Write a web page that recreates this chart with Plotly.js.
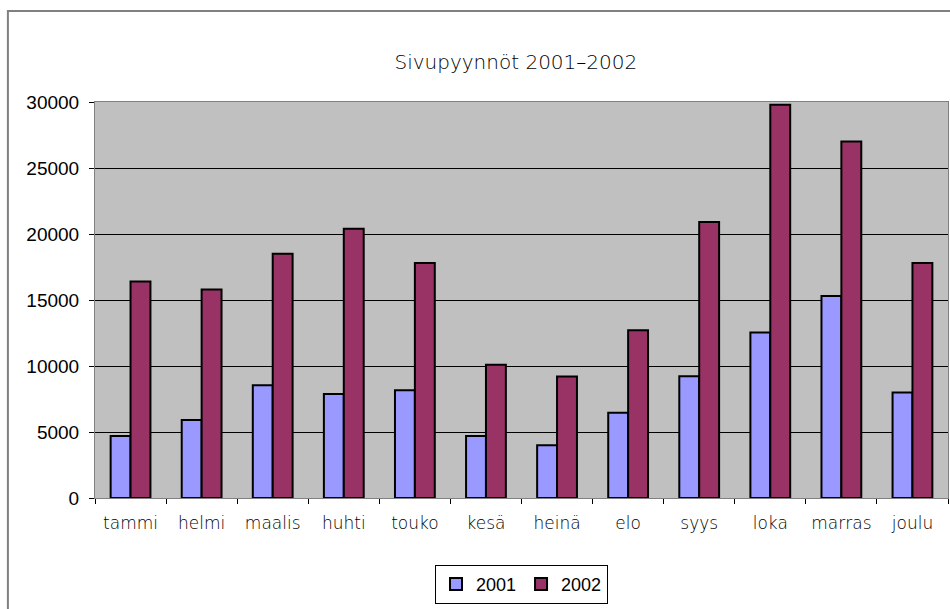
<!DOCTYPE html>
<html>
<head>
<meta charset="utf-8">
<script src="https://cdn.plot.ly/plotly-3.0.1.min.js"></script>
<style>html,body{margin:0;padding:0;background:#fff;}#chart{width:950px;height:609px;}</style>
</head>
<body>
<div id="chart"></div>
<script>
const months = ["tammi","helmi","maalis","huhti","touko","kesä","heinä","elo","syys","loka","marras","joulu"];
const values2001 = [4700, 5900, 8550, 7870, 8170, 4700, 4000, 6450, 9230, 12530, 15300, 8000];
const values2002 = [16400, 15800, 18500, 20400, 17800, 10100, 9200, 12700, 20900, 29800, 27000, 17800];
const seriesNames = ["2001", "2002"];
const yTicks = [0, 5000, 10000, 15000, 20000, 25000, 30000];

const traces = [
  {type:"bar", name:seriesNames[0], x:months, y:values2001,
   marker:{color:"#9999FF", line:{color:"#000000", width:2}}},
  {type:"bar", name:seriesNames[1], x:months, y:values2002,
   marker:{color:"#993366", line:{color:"#000000", width:2}}}
];

const thinFont = "'DejaVu Sans', sans-serif";
const layout = {
  width:950, height:609,
  margin:{l:95, r:2, t:102, b:111, autoexpand:false},
  paper_bgcolor:"#ffffff",
  plot_bgcolor:"#C0C0C0",
  barmode:"group", bargap:0.44, bargroupgap:0,
  title:{text:"Sivupyynnöt 2001–2002", x:0.543, xanchor:"center", y:0.898, yanchor:"middle",
         font:{family:thinFont, size:20, color:"#000", weight:200}},
  xaxis:{type:"category", showgrid:false, showline:true, linecolor:"#808080", linewidth:1, mirror:true,
         ticks:"outside", tickson:"boundaries", ticklen:5, tickcolor:"#000",
         ticklabelstandoff:10,
         tickfont:{family:thinFont, size:17, color:"#000", weight:200}},
  yaxis:{range:[0,30000], tickvals:yTicks, ticktext:yTicks.map(String),
         showgrid:true, gridcolor:"#000000", gridwidth:1, zeroline:false,
         showline:true, linecolor:"#808080", linewidth:1, mirror:true,
         ticks:"outside", ticklen:5, tickcolor:"#000",
         ticklabelstandoff:6,
         tickfont:{family:"Arial, 'Liberation Sans', sans-serif", size:19, color:"#000"}},
  showlegend:true,
  legend:{orientation:"h", x:0.5, xanchor:"center", y:-0.169, yanchor:"top",
          bordercolor:"#000", borderwidth:1, bgcolor:"#fff",
          font:{family:"Arial, 'Liberation Sans', sans-serif", size:18, color:"#000"},
          itemwidth:30, traceorder:"normal", tracegroupgap:0},
  shapes:[{type:"rect", xref:"paper", yref:"paper",
           x0:(8-95)/852, x1:(960-95)/852, y0:-(640-498)/396, y1:(498-11)/396,
           line:{color:"#808080", width:2}, fillcolor:"rgba(0,0,0,0)"}]
};

Plotly.newPlot("chart", traces, layout, {displayModeBar:false, staticPlot:true});
</script>
</body>
</html>
